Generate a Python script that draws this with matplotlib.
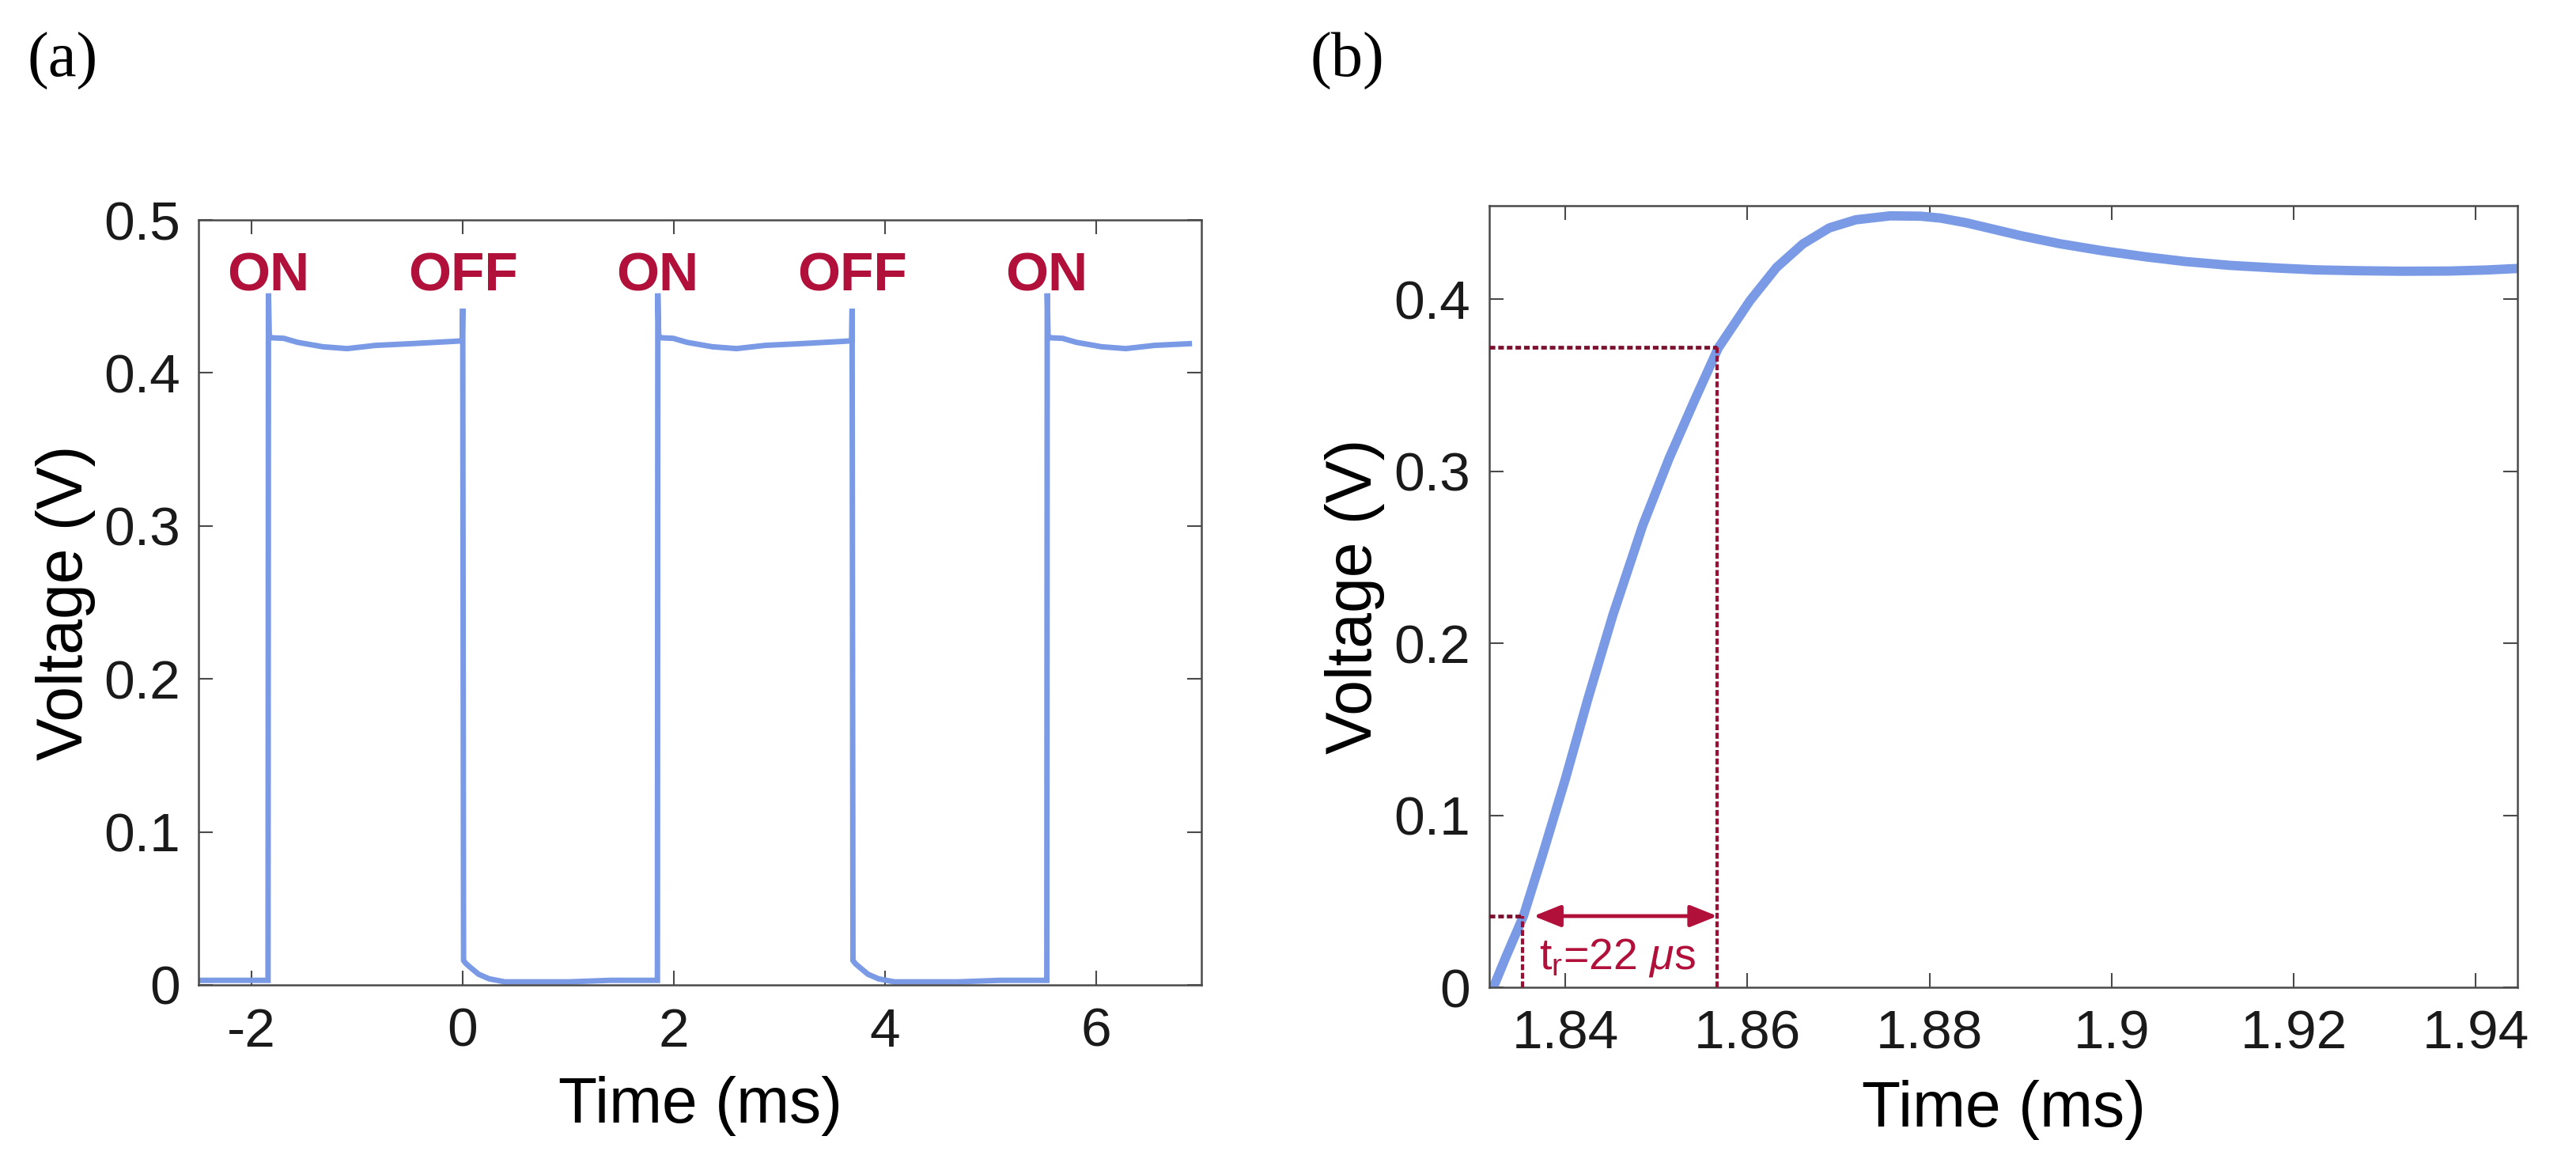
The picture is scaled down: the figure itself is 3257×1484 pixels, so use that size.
import matplotlib
matplotlib.use("Agg")
import matplotlib.pyplot as plt
import numpy as np

# ---------------- data: panel (a) ----------------
xlim_a = [-2.5, 7.0]
ylim_a = [0.0, 0.5]
xticks_a = [-2, 0, 2, 4, 6]
xticklabels_a = ["-2", "0", "2", "4", "6"]
yticks_a = [0, 0.1, 0.2, 0.3, 0.4, 0.5]
yticklabels_a = ["0", "0.1", "0.2", "0.3", "0.4", "0.5"]

on_times = [-1.845, 1.845, 5.535]          # ms
off_times = [0.0, 3.69]                    # ms
event_labels = ["ON", "OFF", "ON", "OFF", "ON"]
event_times = [-1.845, 0.0, 1.845, 3.69, 5.535]

baseline_v = 0.003
# shape of the "on" plateau (time after ON, voltage)
on_rel_t = [0.000, 0.004, 0.012, 0.030, 0.150, 0.280, 0.520, 0.750, 1.020, 1.350, 1.750, 1.840]
on_v     = [0.003, 0.452, 0.424, 0.423, 0.4226, 0.420, 0.4171, 0.4159, 0.418, 0.4191, 0.4206, 0.421]
# shape after OFF (time after OFF, voltage)
off_rel_t = [0.000, 0.008, 0.030, 0.080, 0.150, 0.250, 0.400, 0.600, 1.000, 1.400, 1.830]
off_v     = [0.442, 0.016, 0.014, 0.011, 0.007, 0.004, 0.002, 0.002, 0.002, 0.003, 0.003]

# ---------------- data: panel (b) ----------------
xlim_b = [1.83165, 1.94458]
ylim_b = [0.0, 0.4544]
xticks_b = [1.84, 1.86, 1.88, 1.90, 1.92, 1.94]
xticklabels_b = ["1.84", "1.86", "1.88", "1.9", "1.92", "1.94"]
yticks_b = [0, 0.1, 0.2, 0.3, 0.4]
yticklabels_b = ["0", "0.1", "0.2", "0.3", "0.4"]

t_b = [1.8316, 1.8321, 1.8335, 1.8354, 1.8375, 1.8400, 1.8425, 1.8452, 1.8485, 1.8514,
       1.8543, 1.8568, 1.8603, 1.8632, 1.8661, 1.8690, 1.8719, 1.8757, 1.8790, 1.8812,
       1.8840, 1.8868, 1.8900, 1.8943, 1.8990, 1.9037, 1.9080, 1.9130, 1.9180, 1.9224,
       1.9270, 1.9318, 1.9370, 1.9411, 1.9446]
v_b = [0.000, 0.000, 0.018, 0.0414, 0.077, 0.121, 0.168, 0.216, 0.2685, 0.3075,
       0.3425, 0.3717, 0.3993, 0.4185, 0.4322, 0.4415, 0.4462, 0.4485, 0.4483, 0.4472,
       0.4445, 0.4410, 0.4370, 0.4323, 0.4282, 0.4247, 0.4220, 0.4197, 0.4182, 0.4171,
       0.4166, 0.4163, 0.4164, 0.4170, 0.4179]

t10, v10 = 1.8353, 0.0414
t90, v90 = 1.8567, 0.3720
rise_label = r"t$_\mathregular{r}$=22 $\mu$s"

# ---------------- styles ----------------
W, H = 3257, 1484
blue = "#7b9ae6"
crimson = "#b0103a"
darkred = "#7a0f2e"
spine_col = "#4a4a4a"
sans = ["Liberation Sans", "DejaVu Sans"]
serif = ["Liberation Serif", "DejaVu Serif"]
plt.rcParams["font.family"] = sans
plt.rcParams["mathtext.fontset"] = "custom"
plt.rcParams["mathtext.rm"] = "Liberation Sans"
plt.rcParams["mathtext.it"] = "Liberation Sans:italic"

fig = plt.figure(figsize=(W / 100, H / 100), dpi=100)
fig.patch.set_facecolor("white")

def px_axes(l, t, r, b):
    return fig.add_axes([l / W, 1 - b / H, (r - l) / W, (b - t) / H])

axA = px_axes(251.5, 278, 1519, 1245)
axB = px_axes(1883, 260, 3183, 1248)

def style(ax):
    for s in ax.spines.values():
        s.set_color(spine_col)
        s.set_linewidth(1.8)
    ax.tick_params(direction="in", length=13, width=1.5, colors=spine_col,
                   top=True, right=True, labelsize=50, labelcolor="#1a1a1a")
    ax.tick_params(axis="x", pad=20)
    ax.tick_params(axis="y", pad=17)

# ---- build panel (a) trace from the read breakpoints ----
ta = [xlim_a[0]]
va = [baseline_v]
cycle = sorted([(t, "on") for t in on_times] + [(t, "off") for t in off_times])
for t0, kind in cycle:
    rel_t, vals = (on_rel_t, on_v) if kind == "on" else (off_rel_t, off_v)
    for rt, vv in zip(rel_t, vals):
        if t0 + rt <= xlim_a[1]:
            ta.append(t0 + rt)
            va.append(vv)
ta = np.array(ta)
va = np.array(va)
order = np.argsort(ta, kind="stable")
axA.plot(ta[order], va[order], color=blue, lw=5, solid_joinstyle="miter", zorder=2)

axA.set_xlim(xlim_a)
axA.set_ylim(ylim_a)
axA.set_xticks(xticks_a)
axA.set_xticklabels(xticklabels_a)
axA.set_yticks(yticks_a)
axA.set_yticklabels(yticklabels_a)
style(axA)
for lab, t in zip(event_labels, event_times):
    axA.text(t, 0.4535, lab, color=crimson, fontsize=50, fontweight="bold",
             ha="center", va="baseline", zorder=4)
axA.set_xlabel("Time (ms)", fontsize=58, va="center")
axA.set_ylabel("Voltage (V)", fontsize=58, va="center")
axA.xaxis.set_label_coords(0.5, -0.158)
axA.yaxis.set_label_coords(-0.133, 0.5)

# ---- panel (b) ----
axB.plot(t_b, v_b, color=blue, lw=8.5, solid_capstyle="butt",
         solid_joinstyle="round", zorder=2)
axB.set_xlim(xlim_b)
axB.set_ylim(ylim_b)
axB.set_xticks(xticks_b)
axB.set_xticklabels(xticklabels_b)
axB.set_yticks(yticks_b)
axB.set_yticklabels(yticklabels_b)
style(axB)
axB.set_xlabel("Time (ms)", fontsize=58, va="center")
axB.set_ylabel("Voltage (V)", fontsize=58, va="center")
axB.xaxis.set_label_coords(0.5, -0.157)
axB.yaxis.set_label_coords(-0.131, 0.5)

# rise-time construction
for tv, vv in ((t10, v10), (t90, v90)):
    axB.plot([xlim_b[0], tv], [vv, vv], color=darkred, lw=3.4,
             linestyle=(0, (1.5, 0.8)), zorder=3)
    axB.plot([tv, tv], [0, vv], color="#9a0f34", lw=3.0,
             linestyle=(0, (1.8, 0.8)), zorder=3)
axB.annotate("", xy=(t90, v10), xytext=(t10, v10),
             arrowprops=dict(arrowstyle="<|-|>,head_length=0.55,head_width=0.22",
                             mutation_scale=38, color=crimson, lw=3.5,
                             shrinkA=10, shrinkB=0), zorder=4)
axB.text(t10 + 0.0018, 0.011, rise_label, color=crimson, fontsize=40,
         ha="left", va="baseline", zorder=4)

# panel letters
fig.text(79 / W, 1 - 77 / H, "(a)", family=serif, fontsize=58, ha="center", va="center")
fig.text(1703 / W, 1 - 77 / H, "(b)", family=serif, fontsize=58, ha="center", va="center")

fig.savefig("out.png", dpi=100, facecolor="white")
